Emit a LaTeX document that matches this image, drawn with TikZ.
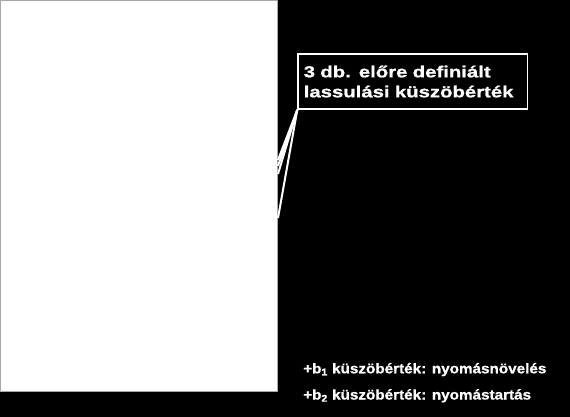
\documentclass[tikz,border=0pt]{standalone}
\usepackage{fontspec}
\setmainfont{Liberation Sans}
\newfontfamily\calloutfont[FakeStretch=1.27,FakeBold=1]{Liberation Sans}
\newfontfamily\notefont[FakeStretch=1.09,FakeBold=0.8]{Liberation Sans}

\begin{document}
\begin{tikzpicture}[x=1pt,y=-1pt,
  callout/.style={draw=white,line width=1.5pt,text=white,align=left,
    text width=218pt,inner xsep=5.7pt,minimum height=55pt,
    font=\calloutfont\bfseries\fontsize{16}{20}\selectfont},
  note/.style={text=white,anchor=base west,inner sep=0pt,
    font=\notefont\bfseries\fontsize{14}{16}\selectfont},
  leader/.style={white,line width=2pt}]
  \useasboundingbox (0,0) rectangle (570,417);

  \fill[black] (0,0) rectangle (570,417);
  \fill[white] (0,0) rectangle (277.5,391);
  \draw[gray!70,line width=0.8pt] (0.4,0.4) rectangle (277.5,391);

  \node[callout,anchor=north west] (thr) at (297.3,53.3)
    {3 db. előre definiált\\lassulási küszöbérték};

  \foreach \y [count=\i] in {160,166,174,218}{
    \coordinate (t\i) at (278,\y);
    \draw[leader] (thr.south west) -- (t\i);
  }

  \node[note] (b1) at (303,373.3) {+b\textsubscript{1} küszöbérték: nyomásnövelés};
  \node[note] (b2) at (303,399.5) {+b\textsubscript{2} küszöbérték: nyomástartás};

\end{tikzpicture}
\end{document}
